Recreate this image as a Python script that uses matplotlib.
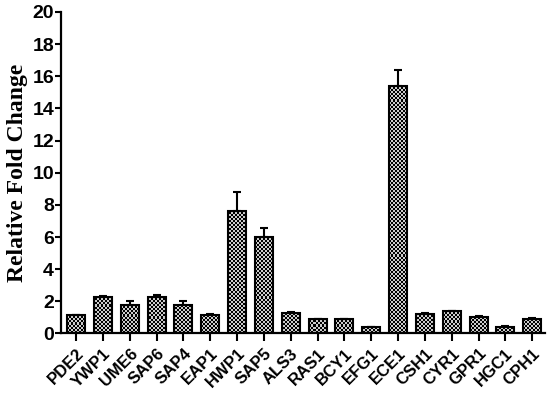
import numpy as np
import matplotlib
matplotlib.use("Agg")
import matplotlib.pyplot as plt

genes = ["PDE2", "YWP1", "UME6", "SAP6", "SAP4", "EAP1", "HWP1", "SAP5", "ALS3",
         "RAS1", "BCY1", "EFG1", "ECE1", "CSH1", "CYR1", "GPR1", "HGC1", "CPH1"]
fold = [1.12, 2.27, 1.76, 2.24, 1.79, 1.17, 7.6, 5.98, 1.29,
        0.88, 0.88, 0.39, 15.4, 1.23, 1.38, 1.03, 0.42, 0.92]
err = [0.05, 0.05, 0.25, 0.18, 0.2, 0.03, 1.18, 0.55, 0.06,
       0.03, 0.04, 0.03, 1.0, 0.06, 0.04, 0.08, 0.04, 0.04]
yticks = [0, 2, 4, 6, 8, 10, 12, 14, 16, 18, 20]

fig = plt.figure(figsize=(5.5, 3.97), dpi=100)
ax = fig.add_axes([0.111, 0.16, 0.88, 0.81])

x = np.arange(len(genes))
xlim = (-0.56, 17.48)
ylim = (0, 20)

bars = ax.bar(x, fold, width=0.67, color="white", edgecolor="black",
              linewidth=1.5, zorder=2)
ax.errorbar(x, fold, yerr=[np.zeros(len(err)), err], fmt="none",
            ecolor="black", elinewidth=1.5, capsize=3, capthick=1.5, zorder=1)

# checkered fill, clipped to each bar
nx, ny = 242, 160
checker = (np.add.outer(np.arange(ny), np.arange(nx)) % 2).astype(float)
for b in bars:
    im = ax.imshow(checker, cmap="gray", vmin=0, vmax=1.25, aspect="auto",
                   extent=[xlim[0], xlim[1], ylim[0], ylim[1]],
                   interpolation="nearest", zorder=2.5)
    im.set_clip_path(b)
for b in bars:
    b.set_facecolor("none")
    b.set_zorder(3)

ax.set_xlim(*xlim)
ax.set_ylim(*ylim)
ax.set_yticks(yticks)
ax.set_xticks(x)
ax.set_xticklabels(genes, rotation=45, ha="right", rotation_mode="anchor",
                   fontsize=12, fontweight="bold", family="Liberation Sans")
for t in ax.get_yticklabels():
    t.set_fontsize(14)
    t.set_fontweight("bold")
    t.set_family("Liberation Sans")

ax.set_ylabel("Relative Fold Change", family="Liberation Serif",
              fontweight="bold", fontsize=17, labelpad=3)

for s in ["top", "right"]:
    ax.spines[s].set_visible(False)
for s in ["left", "bottom"]:
    ax.spines[s].set_linewidth(1.6)
ax.tick_params(axis="y", direction="out", length=4, width=1.5, pad=1)
ax.tick_params(axis="x", direction="out", length=6, width=1.5, pad=3)

fig.savefig("out.png", dpi=100)
